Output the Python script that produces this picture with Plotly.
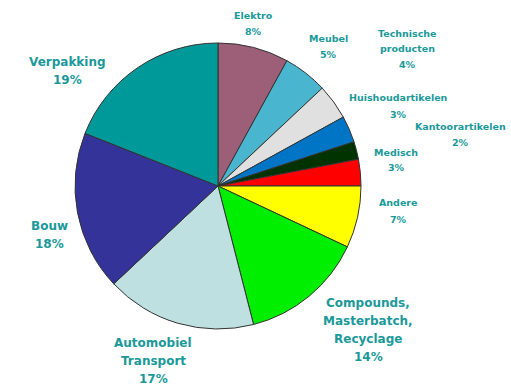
import plotly.graph_objects as go

categories = ["Elektro", "Meubel", "Technische<br>producten", "Huishoudartikelen",
              "Kantoorartikelen", "Medisch", "Andere",
              "Compounds,<br>Masterbatch,<br>Recyclage", "Automobiel<br>Transport",
              "Bouw", "Verpakking"]
values = [8, 5, 4, 3, 2, 3, 7, 14, 17, 18, 19]
colors = ["#9C5F77", "#49B5CE", "#E0E0E0", "#0075C5", "#003300", "#FF0000",
          "#FFFF00", "#00EE00", "#BFE0E0", "#333399", "#009999"]

# label centre positions in pixels (x, y from top), font sizes and line spacing
label_pos = [(253, 23), (328, 46), (407, 49), (398, 106), (460, 134), (396, 160),
             (398, 211), (368, 330), (153, 361), (49, 235), (67, 71)]
label_size = [9.5, 9.5, 9.5, 9.5, 9.5, 9.5, 9.5, 12, 12, 12, 12]
label_gap = [16, 16, 16, 16, 16, 16, 16, 18, 18, 18, 18]

W, H = 511, 385
cx, cy, r = 218, 186, 143

fig = go.Figure(go.Pie(
    labels=categories, values=values, sort=False, direction="clockwise",
    rotation=0, textinfo="none", hoverinfo="label+percent",
    marker=dict(colors=colors, line=dict(color="#333333", width=1)),
    domain=dict(x=[(cx - r) / W, (cx + r) / W],
                y=[(H - cy - r) / H, (H - cy + r) / H]),
    showlegend=False,
))

annotations = []
for name, v, (px, py), fs, gap in zip(categories, values, label_pos, label_size, label_gap):
    lines = name.split("<br>") + [f"{v}%"]
    n = len(lines)
    for i, line in enumerate(lines):
        ly = py + (i - (n - 1) / 2) * gap
        annotations.append(dict(
            x=px / W, y=1 - ly / H, xref="paper", yref="paper",
            text=f"<b>{line}</b>", showarrow=False, align="center",
            xanchor="center", yanchor="middle",
            font=dict(family="DejaVu Sans, sans-serif", size=fs, color="#1A9999"),
        ))

fig.update_layout(
    width=W, height=H, margin=dict(l=0, r=0, t=0, b=0),
    paper_bgcolor="white", plot_bgcolor="white",
    annotations=annotations,
)

fig.write_html("out.html")
